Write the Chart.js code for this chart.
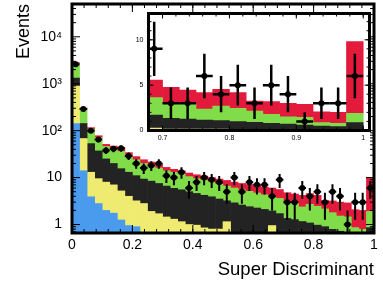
<!DOCTYPE html>
<html>
<head>
<meta charset="utf-8">
<script src="https://cdn.jsdelivr.net/npm/chart.js@4.4.1/dist/chart.umd.min.js"></script>
<style>
  html, body { margin: 0; padding: 0; background: #fff; }
  #wrap { position: relative; width: 383px; height: 283px; }
  #main { position: absolute; left: 0; top: 0; }
  #inset { position: absolute; left: 128px; top: 4px; }
</style>
</head>
<body>
<div id="wrap">
  <canvas id="main" width="383" height="283"></canvas>
  <canvas id="inset" width="250" height="142"></canvas>
</div>
<script>
/* histogram bins (centres) */
var binCenters = [0.0125, 0.0375, 0.0625, 0.0875, 0.1125, 0.1375, 0.1625, 0.1875, 0.2125, 0.2375,
                  0.2625, 0.2875, 0.3125, 0.3375, 0.3625, 0.3875, 0.4125, 0.4375, 0.4625, 0.4875,
                  0.5125, 0.5375, 0.5625, 0.5875, 0.6125, 0.6375, 0.6625, 0.6875, 0.7125, 0.7375,
                  0.7625, 0.7875, 0.8125, 0.8375, 0.8625, 0.8875, 0.9125, 0.9375, 0.9625, 0.9875];
var binHalfWidth = 0.0125;

/* stacked predictions, bottom to top */
var blueBkg   = [142, 14, 3.9, 2.8, 2.0, 1.75, 1.25, 0.95, 0.9, 0.08,
                 0.08, 0.08, 0.08, 0.08, 0.08, 0.08, 0.08, 0.08, 0.08, 0.08,
                 0.08, 0.08, 0.08, 0.08, 0.08, 0.08, 0.08, 0.1, 0.1, 0.1,
                 0.1, 0.1, 0.1, 0.1, 0.1, 0.1, 0.1, 0.1, 0.1, 0.1];
var yellowBkg = [748, 54, 9.1, 6.7, 6.0, 5.25, 3.95, 3.05, 2.3, 2.72,
                 1.82, 1.62, 1.37, 1.22, 1.07, 0.92, 0.89, 0.77, 0.72, 0.72,
                 1.07, 0.42, 0.37, 0.32, 0.32, 0.32, 0.87, 0.17, 0.06, 0.06,
                 0.05, 0.05, 0.04, 0.03, 0.02, 0.02, 0.01, 0.01, 0, 0];
var blackBkg  = [430, 74, 40, 27.5, 17, 13, 10.3, 9.0, 7.8, 6.5,
                 6.5, 5.8, 5.15, 4.6, 4.35, 4.0, 3.63, 3.35, 3.1, 2.7,
                 2.05, 2.4, 2.15, 2.0, 1.85, 1.7, 1.0, 1.44, 1.19, 1.11,
                 1.01, 0.93, 0.83, 0.77, 0.67, 0.6, 0.5, 0.39, 0.32, 0.76];
var greenBkg  = [1380, 143, 55, 35, 21, 20, 20.5, 16, 13, 10.7,
                 9.6, 8.5, 7.4, 7.1, 6.5, 5.5, 4.9, 4.6, 4.1, 3.7,
                 3.4, 3.1, 2.9, 2.7, 2.45, 2.2, 2.05, 1.91, 1.57, 1.65,
                 1.21, 1.62, 1.48, 1.25, 1.0, 0.8, 0.85, 0.36, 0.37, 1.04];
var redSignal = [100, 20, 8, 6, 5, 7, 8, 5, 4, 4,
                 3.5, 3, 2.5, 2, 2, 2, 2, 2, 2, 2.1,
                 2.1, 2.0, 2.0, 2.0, 2.0, 2.0, 2.0, 1.95, 1.84, 1.55,
                 1.8, 1.84, 1.72, 1.1, 1.39, 1.48, 1.43, 1.21, 1.21, 7.9];

/* observed events */
var observed = [2600, 290, 100, 65, 38, 41, 42, 29, 20, 16,
                18, 20, 11, 10, 13, 6, 8, 10, 9, 8,
                5, 10, 5, 8, 7, 7, 4, 9, 3, 3,
                6, 4, 5, 3, 5, 4, 1, 3, 3, 6];

/* axis ticks */
var xTickValues = [0, 0.2, 0.4, 0.6, 0.8, 1];
var xTickLabels = ["0", "0.2", "0.4", "0.6", "0.8", "1"];
var yTickValues = [1, 10, 100, 1000, 10000];
var yTickLabels = ["1", "10", "10\u00B2", "10\u00B3", "10\u2074"];
var insetXTickValues = [0.7, 0.8, 0.9, 1];
var insetXTickLabels = ["0.7", "0.8", "0.9", "1"];
var insetYTickValues = [0, 5, 10];
var insetYTickLabels = ["0", "5", "10"];

var components = [blueBkg, yellowBkg, blackBkg, greenBkg, redSignal];
var componentColors = ["#4a9bee", "#efeb70", "#232323", "#80dc48", "#e31a3b"];

Chart.defaults.font.family = '"Liberation Sans", Arial, Helvetica, sans-serif';
Chart.defaults.color = "#000";

function barSets(from, to) {
    return components.map(function (vals, k) {
        return {
            type: "bar",
            stack: "mc",
            order: 2,
            data: vals.slice(from, to).map(function (v, i) { return {x: binCenters[from + i], y: v}; }),
            backgroundColor: componentColors[k],
            borderWidth: 0,
            barPercentage: 1,
            categoryPercentage: 1
        };
    });
}

function dataSet(from, to, radius) {
    return {
        type: "scatter",
        stack: "obs",
        order: 1,
        data: observed.slice(from, to).map(function (v, i) { return {x: binCenters[from + i], y: v}; }),
        backgroundColor: "#000",
        borderWidth: 0,
        pointRadius: radius
    };
}

/* sqrt(N) error bars + bin-width bars on the data points */
function errorBars(lw) {
    return {
        id: "errorBars",
        afterDatasetsDraw: function (chart) {
            var ctx = chart.ctx, a = chart.chartArea, xs = chart.scales.x, ys = chart.scales.y;
            var ds = chart.data.datasets[chart.data.datasets.length - 1];
            ctx.save();
            ctx.beginPath();
            ctx.rect(a.left, a.top, a.right - a.left, a.bottom - a.top);
            ctx.clip();
            ctx.strokeStyle = "#000";
            ctx.lineWidth = lw;
            ds.data.forEach(function (p) {
                var e = Math.sqrt(p.y);
                var px = xs.getPixelForValue(p.x), py = ys.getPixelForValue(p.y);
                var lo = p.y - e > 0 ? ys.getPixelForValue(p.y - e) : a.bottom + 5;
                ctx.beginPath();
                ctx.moveTo(px, ys.getPixelForValue(p.y + e));
                ctx.lineTo(px, lo);
                ctx.moveTo(xs.getPixelForValue(p.x - binHalfWidth), py);
                ctx.lineTo(xs.getPixelForValue(p.x + binHalfWidth), py);
                ctx.stroke();
            });
            ctx.restore();
        }
    };
}

/* thick frame with inward ticks on all sides */
function frameTicks(o) {
    return {
        id: "frameTicks",
        beforeDraw: function (chart) {
            var a = chart.chartArea, ctx = chart.ctx;
            ctx.save();
            ctx.fillStyle = "#fff";
            ctx.fillRect(a.left, a.top, a.right - a.left, a.bottom - a.top);
            ctx.restore();
        },
        afterDraw: function (chart) {
            var ctx = chart.ctx, a = chart.chartArea, xs = chart.scales.x, ys = chart.scales.y;
            ctx.save();
            ctx.strokeStyle = "#000";
            ctx.lineWidth = 1;
            function xt(v, len) {
                var p = xs.getPixelForValue(v);
                if (p < a.left + 1 || p > a.right - 1) return;
                ctx.beginPath();
                ctx.moveTo(p, a.bottom); ctx.lineTo(p, a.bottom - len);
                ctx.moveTo(p, a.top); ctx.lineTo(p, a.top + len);
                ctx.stroke();
            }
            function yt(v, len) {
                var p = ys.getPixelForValue(v);
                if (p < a.top + 1 || p > a.bottom - 1) return;
                ctx.beginPath();
                ctx.moveTo(a.left, p); ctx.lineTo(a.left + len, p);
                ctx.moveTo(a.right, p); ctx.lineTo(a.right - len, p);
                ctx.stroke();
            }
            o.xMinor.forEach(function (v) { xt(v, o.minor); });
            o.xMajor.forEach(function (v) { xt(v, o.major); });
            o.yMinor.forEach(function (v) { yt(v, o.minor); });
            o.yMajor.forEach(function (v) { yt(v, o.major); });
            ctx.lineWidth = o.frame;
            ctx.strokeRect(a.left, a.top, a.right - a.left, a.bottom - a.top);
            ctx.restore();
        }
    };
}

function steps(lo, hi, step) {
    var out = [];
    for (var v = lo; v <= hi + 1e-9; v += step) out.push(Math.round(v * 1000) / 1000);
    return out;
}

// keep the layout from reserving room for half tick labels
function fixSize(w, h) {
    return function (s) {
        if (w !== null) s.width = w;
        if (h !== null) s.height = h;
        s.paddingTop = 0; s.paddingBottom = 0; s.paddingLeft = 0; s.paddingRight = 0;
    };
}

var logMinor = [];
[0.1, 1, 10, 100, 1000, 10000].forEach(function (d) {
    for (var k = 2; k <= 9; k++) logMinor.push(k * d);
});

/* main plot */
var canvasElement = document.getElementById("main");
var config =
{
    type: "bar",
    data: { datasets: barSets(0, 40).concat([dataSet(0, 40, 3)]) },
    options: {
        responsive: false,
        animation: false,
        layout: { padding: { left: 0, top: 3, right: 9, bottom: 0 } },
        plugins: { legend: { display: false }, tooltip: { enabled: false } },
        scales: {
            x: {
                type: "linear", min: 0, max: 1, offset: false, stacked: true,
                afterBuildTicks: function (s) { s.ticks = xTickValues.map(function (v) { return {value: v}; }); },
                afterFit: fixSize(null, 50),
                ticks: { callback: function (v, i) { return xTickLabels[i]; }, padding: 4, font: { size: 14 }, color: "#000", maxRotation: 0, autoSkip: false },
                grid: { display: false, drawTicks: false, offset: false },
                border: { display: false },
                title: { display: true, text: "Super Discriminant", align: "end", font: { size: 18.5 }, color: "#000", padding: { top: 0, bottom: 2 } }
            },
            y: {
                type: "logarithmic", min: 0.66, max: 50000, stacked: true,
                afterBuildTicks: function (s) { s.ticks = yTickValues.map(function (v) { return {value: v}; }); },
                afterFit: fixSize(72, null),
                ticks: { callback: function (v, i) { return yTickLabels[i]; }, padding: 10, font: { size: 14 }, color: "#000", autoSkip: false },
                grid: { display: false, drawTicks: false },
                border: { display: false },
                title: { display: true, text: "Events", align: "end", font: { size: 18 }, color: "#000", padding: { top: 13.5, bottom: 0 } }
            }
        }
    },
    plugins: [
        frameTicks({ xMajor: xTickValues, xMinor: steps(0, 1, 0.04), yMajor: yTickValues, yMinor: logMinor, major: 8, minor: 4, frame: 3 }),
        errorBars(2)
    ]
};
var chart = new Chart(canvasElement, config);

/* inset, linear scale, last 13 bins */
var canvasElement = document.getElementById("inset");
var config =
{
    type: "bar",
    data: { datasets: barSets(27, 40).concat([dataSet(27, 40, 3)]) },
    options: {
        responsive: false,
        animation: false,
        layout: { padding: { left: 0, top: 9.5, right: 8.5, bottom: 0 } },
        plugins: { legend: { display: false }, tooltip: { enabled: false } },
        scales: {
            x: {
                type: "linear", min: 0.679, max: 1.0094, offset: false, stacked: true,
                afterBuildTicks: function (s) { s.ticks = insetXTickValues.map(function (v) { return {value: v}; }); },
                afterFit: fixSize(null, 15.5),
                ticks: { callback: function (v, i) { return insetXTickLabels[i]; }, padding: 3, font: { size: 7 }, color: "#000", maxRotation: 0, autoSkip: false },
                grid: { display: false, drawTicks: false, offset: false },
                border: { display: false }
            },
            y: {
                type: "linear", min: 0, max: 12.9, stacked: true,
                afterBuildTicks: function (s) { s.ticks = insetYTickValues.map(function (v) { return {value: v}; }); },
                afterFit: fixSize(20.5, null),
                ticks: { callback: function (v, i) { return insetYTickLabels[i]; }, padding: 5, font: { size: 7 }, color: "#000", autoSkip: false },
                grid: { display: false, drawTicks: false },
                border: { display: false }
            }
        }
    },
    plugins: [
        frameTicks({ xMajor: insetXTickValues, xMinor: steps(0.68, 1.0, 0.02), yMajor: insetYTickValues, yMinor: steps(0, 12, 1), major: 5, minor: 3, frame: 3 }),
        errorBars(2.5)
    ]
};
var chart = new Chart(canvasElement, config);
</script>
</body>
</html>
